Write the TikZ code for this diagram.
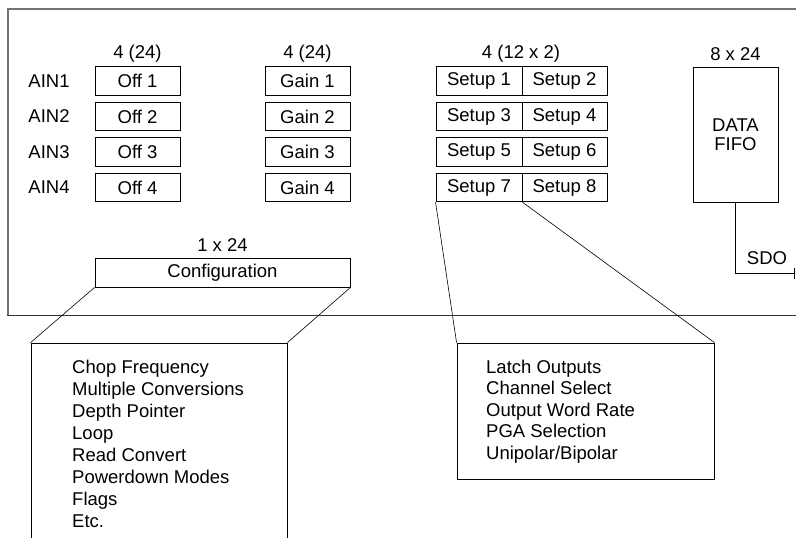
\documentclass[tikz,border=0pt]{standalone}
\usepackage{fontspec}
\setmainfont{Liberation Sans}
\usetikzlibrary{arrows.meta}
\begin{document}
\begin{tikzpicture}[x=1pt,y=-1pt,
  every node/.style={font=\fontsize{18.5}{22}\selectfont, inner sep=0pt},
  reg/.style={draw=black, line width=0.9pt, minimum width=85pt, minimum height=28.5pt},
  lbl/.style={},
  list/.style={anchor=base west},
  callout/.style={draw=black, line width=0.6pt},
  frame/.style={draw=black!55, line width=1.6pt}
]
\useasboundingbox (0,0) rectangle (796,538);
% outer frame
\draw[frame] (796,9) -- (8,9) -- (8,315);
\draw[draw=black!80, line width=1pt] (7.2,315) -- (796,315);

% column labels
\node[lbl] (t1) at (137.5,54) {4 (24)};
\node[lbl] (t2) at (307.5,54) {4 (24)};
\node[lbl] (t3) at (521,54) {4 (12 x 2)};
\node[lbl] (t4) at (735.5,54) {8 x 24};
\node[lbl] (t5) at (222.5,245) {1 x 24};

% rows
\foreach \i/\y in {1/81,2/116.5,3/152,4/187.5}{
  \node[lbl] (ain\i) at (49,\y) {AIN\i};
  \node[reg] (off\i) at (137.5,\y) {Off \i};
  \node[reg] (gain\i) at (307.5,\y) {Gain \i};
}
\foreach \i/\j/\k/\y in {1/1/2/81,2/3/4/116.5,3/5/6/152,4/7/8/187.5}{
  \node[reg, minimum width=86pt] (s\j) at (479,\y) {Setup \j};
  \node[reg] (s\k) at (564.5,\y) {Setup \k};
}

% FIFO
\node[reg, minimum height=135pt, align=center, font=\fontsize{18.5}{19.5}\selectfont] (fifo) at (735.5,134.5) {DATA\\FIFO};
\coordinate (sdoend) at (795,273);
\draw[line width=0.9pt, -{Bar[width=11pt,line width=0.9pt]}] (fifo.south) |- (sdoend);
\node[lbl] (sdo) at (767,258) {SDO};

% configuration
\node[reg, minimum width=255pt, minimum height=29pt] (cfg) at (222.5,272.5) {Configuration};

% expanded boxes
\node[draw=black, line width=0.9pt, minimum width=256pt, minimum height=207pt] (cl) at (159,446.5) {};
\node[draw=black, line width=0.9pt, minimum width=257pt, minimum height=136pt] (sl) at (585.5,411) {};

\draw[callout] (cfg.south west) -- (cl.north west);
\draw[callout] (cfg.south east) -- (cl.north east);
\draw[callout] (s7.south west) -- (sl.north west);
\draw[callout] (s7.south east) -- (sl.north east);

% lists
\foreach \t [count=\n from 0] in {Chop Frequency,Multiple Conversions,Depth Pointer,Loop,Read Convert,Powerdown Modes,Flags,Etc.}{
  \node[list] (c\n) at (72,373+22.1*\n) {\t};
}
\foreach \t [count=\n from 0] in {Latch Outputs,Channel Select,Output Word Rate,PGA Selection,Unipolar/Bipolar}{
  \node[list] (u\n) at (486,373+21.5*\n) {\t};
}
\end{tikzpicture}
\end{document}
